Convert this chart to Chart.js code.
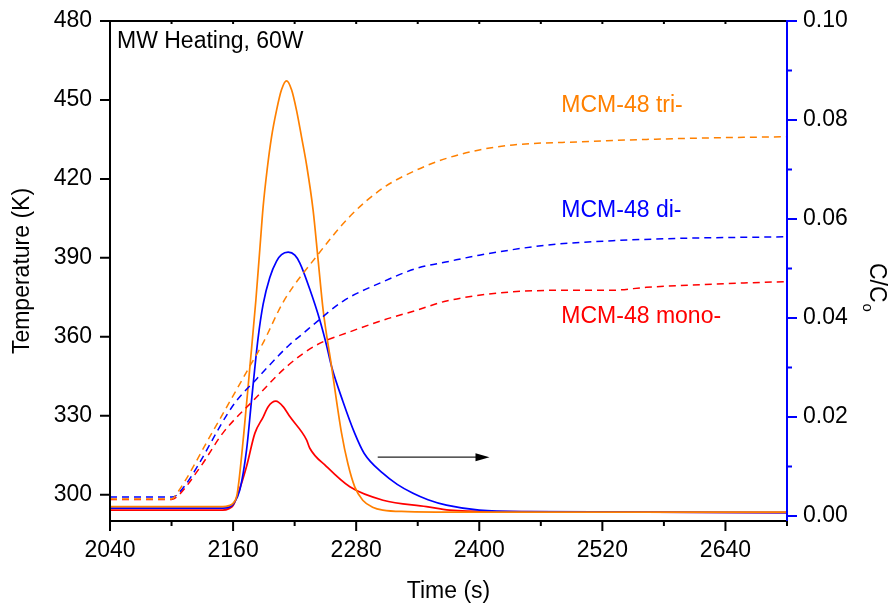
<!DOCTYPE html>
<html>
<head>
<meta charset="utf-8">
<script src="https://cdn.jsdelivr.net/npm/chart.js@4.4.0/dist/chart.umd.min.js"></script>
<style>
  html, body { margin: 0; padding: 0; background: #fff; }
  canvas { display: block; }
</style>
</head>
<body>
<canvas id="chart" width="892" height="607"></canvas>
<script>
// temperature (dashed, left axis), K
const triTempTime = [2040, 2100, 2105, 2139, 2176, 2189, 2209, 2241, 2274, 2306, 2339, 2368, 2400, 2433, 2498, 2563, 2628, 2700];
const triTemp = [298.4, 298.4, 300.4, 323.2, 348.6, 357.5, 373.3, 390.4, 405.8, 416.5, 423.4, 427.8, 431.0, 432.9, 434.1, 435.0, 435.6, 436.0];
const diTempTime = [2040, 2100, 2105, 2162, 2183, 2194, 2215, 2228, 2241, 2267, 2306, 2339, 2371, 2400, 2465, 2530, 2595, 2700];
const diTemp = [299.1, 299.1, 299.8, 335.0, 344.0, 348.6, 357.0, 361.2, 365.5, 373.5, 380.9, 386.0, 388.7, 391.0, 394.8, 396.5, 397.4, 398.0];
const monoTempTime = [2040, 2100, 2105, 2128, 2150, 2180, 2212, 2241, 2274, 2306, 2339, 2368, 2433, 2498, 2530, 2563, 2628, 2700];
const monoTemp = [298.2, 298.2, 299.1, 310.5, 323.4, 335.9, 348.6, 356.8, 361.9, 366.3, 370.1, 373.6, 377.1, 377.7, 377.7, 378.8, 380.0, 381.0];

// C/C0 (solid, right axis)
const triConcTime = [2040, 2150, 2156, 2160, 2164, 2170.5, 2176.4, 2182.2, 2186.1, 2189.3, 2193.2, 2197.5, 2202.4, 2207.2, 2212.1, 2217, 2221.8, 2226.7, 2231.6, 2238, 2242.9, 2247.8, 2256, 2265.7, 2272, 2278.6, 2286.4, 2296, 2306, 2330, 2370, 2700];
const triConc = [0.0019, 0.0019, 0.0021, 0.0026, 0.0045, 0.0168, 0.0302, 0.0436, 0.0540, 0.0625, 0.0700, 0.0766, 0.0820, 0.0861, 0.0879, 0.0861, 0.0820, 0.0766, 0.0710, 0.0618, 0.0517, 0.0416, 0.0302, 0.0168, 0.0105, 0.0059, 0.0032, 0.0018, 0.0012, 0.0009, 0.0008, 0.0008];
const diConcTime = [2040, 2150, 2156, 2160.1, 2166.6, 2173.1, 2178, 2184.4, 2189.3, 2195.8, 2202.4, 2207.2, 2213.7, 2220.2, 2225.1, 2234.8, 2244.5, 2251.1, 2256, 2267, 2278.6, 2287.7, 2306.2, 2320, 2335.4, 2350, 2368, 2400, 2450, 2700];
const diConc = [0.0016, 0.0016, 0.0018, 0.0024, 0.0053, 0.0133, 0.0234, 0.0360, 0.0428, 0.0482, 0.0515, 0.0528, 0.0533, 0.0527, 0.0511, 0.0458, 0.0396, 0.0345, 0.0302, 0.0232, 0.0167, 0.0127, 0.0086, 0.0064, 0.0046, 0.0033, 0.0022, 0.0012, 0.0009, 0.0007];
const monoConcTime = [2040, 2150, 2156, 2160, 2165, 2173.1, 2181.2, 2189.3, 2194.2, 2201.7, 2208.8, 2215.3, 2231.6, 2234.8, 2251.1, 2273.8, 2306.2, 2348.5, 2371, 2420, 2700];
const monoConc = [0.0012, 0.0012, 0.0015, 0.0021, 0.0046, 0.0100, 0.0167, 0.0200, 0.0221, 0.0232, 0.0221, 0.0201, 0.0154, 0.0137, 0.0100, 0.0059, 0.0032, 0.0019, 0.0012, 0.0009, 0.0007];

const timeTicks = [2040, 2160, 2280, 2400, 2520, 2640];
const tempTicks = [300, 330, 360, 390, 420, 450, 480];
const concTicks = [0, 0.02, 0.04, 0.06, 0.08, 0.10];
const seriesNames = ['MCM-48 tri-', 'MCM-48 di-', 'MCM-48 mono-'];
const seriesColors = ['#ff8000', '#0000ff', '#ff0000'];

const FONT = "'Liberation Sans', Arial, Helvetica, sans-serif";
const tickFont = { family: FONT, size: 23 };

const pts = (xs, ys) => xs.map((x, i) => ({ x: x, y: ys[i] }));

const tempSets = [[triTempTime, triTemp], [diTempTime, diTemp], [monoTempTime, monoTemp]];
const concSets = [[triConcTime, triConc], [diConcTime, diConc], [monoConcTime, monoConc]];

const datasets = [];
tempSets.forEach((s, i) => {
    datasets.push({
        label: seriesNames[i] + ' T',
        data: pts(s[0], s[1]),
        yAxisID: 'yT',
        borderColor: seriesColors[i],
        borderWidth: 1.5,
        borderDash: [7, 5],
        fill: false
    });
});
concSets.forEach((s, i) => {
    datasets.push({
        label: seriesNames[i] + ' C/C0',
        data: pts(s[0], s[1]),
        yAxisID: 'yC',
        borderColor: seriesColors[i],
        borderWidth: 1.7,
        fill: false
    });
});

// text labels, placed in data units (time, temperature)
const notes = [
    { text: 'MW Heating, 60W', t: 2046.8, T: 469.7, color: '#000' },
    { text: seriesNames[0], t: 2480, T: 445.5, color: seriesColors[0] },
    { text: seriesNames[1], t: 2480, T: 405.6, color: seriesColors[1] },
    { text: seriesNames[2], t: 2480, T: 365.1, color: seriesColors[2] }
];
// arrow pointing to the right axis (time, C/C0)
const arrow = { from: 2301, to: 2410, c: 0.0119 };

// vertical scales: no extra room for half labels, the plot starts right at the top padding
const noPad = s => { s.paddingTop = 0; s.paddingBottom = 0; };

const framePlugin = {
    id: 'frame',
    afterDatasetsDraw(chart) {
        const { ctx, scales } = chart;
        const x = scales.x, yT = scales.yT, yC = scales.yC;
        ctx.save();
        ctx.font = '23px ' + FONT;
        ctx.textBaseline = 'alphabetic';
        ctx.textAlign = 'left';
        notes.forEach(n => {
            ctx.fillStyle = n.color;
            ctx.fillText(n.text, x.getPixelForValue(n.t), yT.getPixelForValue(n.T));
        });

        const ax0 = x.getPixelForValue(arrow.from);
        const ax1 = x.getPixelForValue(arrow.to);
        const ay = yC.getPixelForValue(arrow.c);
        ctx.strokeStyle = '#222';
        ctx.fillStyle = '#000';
        ctx.lineWidth = 1.2;
        ctx.beginPath();
        ctx.moveTo(ax0, ay);
        ctx.lineTo(ax1 - 10, ay);
        ctx.stroke();
        ctx.beginPath();
        ctx.moveTo(ax1, ay);
        ctx.lineTo(ax1 - 14, ay - 4);
        ctx.lineTo(ax1 - 14, ay + 4);
        ctx.closePath();
        ctx.fill();
        ctx.restore();
    },
    afterDraw(chart) {
        const { ctx, chartArea: a, scales } = chart;
        const x = scales.x, yT = scales.yT, yC = scales.yC;
        ctx.save();
        ctx.lineWidth = 2;
        ctx.strokeStyle = '#000';
        ctx.beginPath();
        ctx.moveTo(a.left, a.top);
        ctx.lineTo(a.right, a.top);
        ctx.moveTo(a.left, a.top - 1);
        ctx.lineTo(a.left, a.bottom + 1);
        ctx.moveTo(a.left - 1, a.bottom);
        ctx.lineTo(a.right + 1, a.bottom);
        // left ticks
        tempTicks.forEach(v => {
            const p = yT.getPixelForValue(v);
            ctx.moveTo(a.left - 10, p);
            ctx.lineTo(a.left, p);
        });
        // bottom and top ticks, every 60 s
        for (let t = x.min; t <= x.max; t += 60) {
            const p = x.getPixelForValue(t);
            const major = timeTicks.includes(t);
            ctx.moveTo(p, a.bottom);
            ctx.lineTo(p, a.bottom + (major ? 10 : 5));
            ctx.moveTo(p, a.top);
            ctx.lineTo(p, a.top + 3);
        }
        ctx.stroke();

        // right axis in blue
        ctx.strokeStyle = '#0000ff';
        ctx.beginPath();
        ctx.moveTo(a.right, a.top - 1);
        ctx.lineTo(a.right, a.bottom);
        for (let k = 0; k <= 10; k++) {
            const p = yC.getPixelForValue(k / 100);
            ctx.moveTo(a.right, p);
            ctx.lineTo(a.right + (k % 2 === 0 ? 10 : 5), p);
        }
        ctx.stroke();

        // axis titles
        ctx.fillStyle = '#000';
        ctx.font = '23px ' + FONT;
        ctx.textAlign = 'center';
        ctx.textBaseline = 'alphabetic';
        ctx.fillText('Time (s)', (a.left + a.right) / 2, 598);

        ctx.save();
        ctx.translate(29, (a.top + a.bottom) / 2);
        ctx.rotate(-Math.PI / 2);
        ctx.fillText('Temperature (K)', 0, 0);
        ctx.restore();

        ctx.save();
        ctx.translate(870, 263);
        ctx.rotate(Math.PI / 2);
        ctx.textAlign = 'left';
        ctx.fillText('C/C', 0, 0);
        const w = ctx.measureText('C/C').width;
        ctx.font = '15px ' + FONT;
        ctx.fillText('o', w + 1, 7);
        ctx.restore();
        ctx.restore();
    }
};

new Chart(document.getElementById('chart'), {
    type: 'line',
    data: { datasets: datasets },
    options: {
        responsive: false,
        animation: false,
        devicePixelRatio: 1,
        parsing: false,
        layout: { padding: { top: 21, left: 0, right: 0, bottom: 0 } },
        plugins: {
            legend: { display: false },
            tooltip: { enabled: false }
        },
        elements: {
            point: { radius: 0 },
            line: { cubicInterpolationMode: 'monotone' }
        },
        scales: {
            x: {
                type: 'linear',
                min: 2040,
                max: 2700,
                afterBuildTicks: s => { s.ticks = timeTicks.map(v => ({ value: v })); },
                afterFit: s => { s.height = 86; s.paddingLeft = 0; s.paddingRight = 0; },
                grid: { display: false, drawTicks: false },
                border: { display: false },
                ticks: { font: tickFont, color: '#000', padding: 16, maxRotation: 0, autoSkip: false, callback: v => String(v) }
            },
            yT: {
                type: 'linear',
                position: 'left',
                min: 290,
                max: 480,
                afterBuildTicks: s => { s.ticks = tempTicks.map(v => ({ value: v })); },
                afterFit: s => { s.width = 110; noPad(s); },
                grid: { display: false, drawTicks: false },
                border: { display: false },
                ticks: { font: tickFont, color: '#000', padding: 18, callback: v => String(v) }
            },
            yC: {
                type: 'linear',
                position: 'right',
                min: -0.001,
                max: 0.1,
                afterBuildTicks: s => { s.ticks = concTicks.map(v => ({ value: v })); },
                afterFit: s => { s.width = 105; noPad(s); },
                grid: { display: false, drawTicks: false },
                border: { display: false },
                ticks: { font: tickFont, color: '#000', padding: 16, callback: v => v.toFixed(2) }
            }
        }
    },
    plugins: [framePlugin]
});
</script>
</body>
</html>
